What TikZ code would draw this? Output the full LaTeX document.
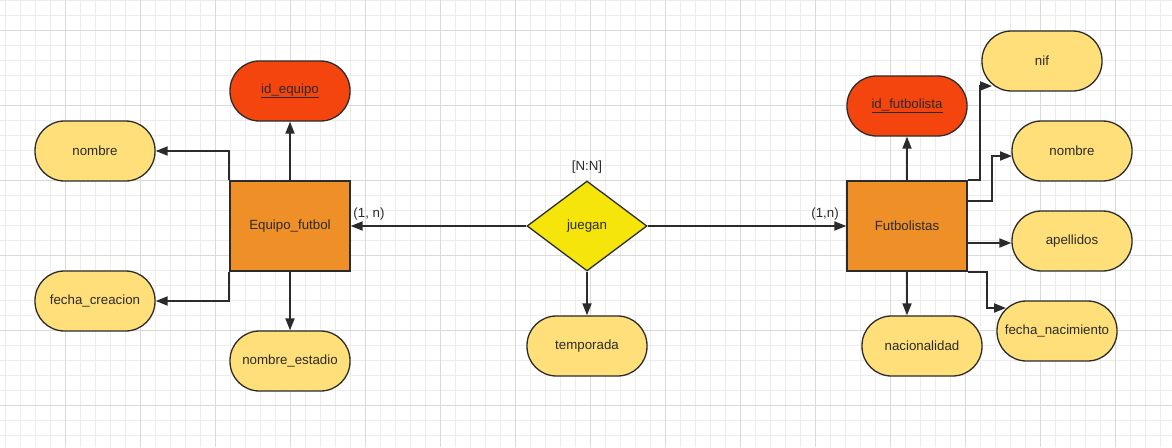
\documentclass[tikz,border=0pt]{standalone}
\usepackage{fontspec}
\setmainfont{Liberation Sans}
\usetikzlibrary{shapes.geometric,arrows.meta}
\definecolor{gridminor}{HTML}{ECECEC}
\definecolor{gridmajor}{HTML}{DADADA}
\definecolor{entfill}{HTML}{EF8F28}
\definecolor{attfill}{HTML}{FFDF7A}
\definecolor{keyfill}{HTML}{F5450F}
\definecolor{relfill}{HTML}{F5E50A}
\definecolor{ink}{HTML}{2B2B2B}
\tikzset{
  base/.style={draw=ink, line width=1.3pt, text=ink, font=\fontsize{13.3}{15}\selectfont, inner sep=0pt},
  entity/.style={base, fill=entfill, minimum width=120pt, minimum height=90pt},
  attr/.style={base, fill=attfill, rounded corners=29.5pt, minimum width=120pt, minimum height=60pt},
  keyattr/.style={attr, fill=keyfill},
  rel/.style={base, fill=relfill, diamond, aspect=1.333, minimum width=120pt, minimum height=90pt},
  conn/.style={draw=ink, line width=1.8pt, -{Triangle[length=12pt,width=9pt]}},
  lbl/.style={text=ink, font=\fontsize{13.3}{15}\selectfont, inner sep=0pt},
}
\begin{document}
\begin{tikzpicture}[x=1pt,y=-1pt]
\useasboundingbox (0,0) rectangle (1172,447);
\fill[white] (0,0) rectangle (1172,447);
% grid
\foreach \gx in {5,20,...,1170} \draw[gridminor, line width=0.8pt] (\gx,0) -- (\gx,447);
\foreach \gy in {0,15,...,445} \draw[gridminor, line width=0.8pt] (0,\gy) -- (1172,\gy);
\foreach \gx in {65,140,...,1130} \draw[gridmajor, line width=1pt] (\gx,0) -- (\gx,447);
\foreach \gy in {30,105,...,430} \draw[gridmajor, line width=1pt] (0,\gy) -- (1172,\gy);

% left entity
\node[entity] (E) at (290,226) {Equipo\_futbol};
\node[keyattr] (ide) at (290,91) {\underline{id\_equipo}};
\node[attr] (nomL) at (95,151) {nombre};
\node[attr] (fcre) at (95,301) {fecha\_creacion};
\node[attr] (nest) at (290,361) {nombre\_estadio};

% relationship
\node[rel] (J) at (587,226) {juegan};
\node[attr] (temp) at (587,346) {temporada};
\node[lbl] (nn) at (587,167) {[N:N]};
\node[lbl] (cardL) at (369,214) {(1, n)};
\node[lbl] (cardR) at (825,214) {(1,n)};

% right entity
\node[entity] (F) at (907,226) {Futbolistas};
\node[keyattr] (idf) at (907,106) {\underline{id\_futbolista}};
\node[attr] (nif) at (1042,61) {nif};
\node[attr] (nomR) at (1072,151) {nombre};
\node[attr] (ape) at (1072,241) {apellidos};
\node[attr] (fnac) at (1057,331) {fecha\_nacimiento};
\node[attr] (nac) at (922,346) {nacionalidad};

\coordinate (nifin) at (992,86);
\coordinate (nomRin) at (1012,156);
\coordinate (fnacin) at (1006,308);

% connectors left
\draw[conn] (E.north) -- (ide.south);
\draw[conn] (E.north west) |- (nomL.east);
\draw[conn] (E.south west) |- (fcre.east);
\draw[conn] (E.south) -- (nest.north);
% relationship connectors
\draw[conn] (J.west) -- (E.east);
\draw[conn] (J.east) -- (F.west);
\draw[conn] (J.south) -- (temp.north);
% connectors right
\draw[conn] (F.north) -- (idf.south);
\draw[conn] (F.north east) -- ++(12,0) |- (nifin);
\draw[conn] ([yshift=25pt]F.east) -- ++(24,0) |- (nomRin);
\draw[conn] ([yshift=-17pt]F.east) -- ([yshift=-2pt]ape.west);
\draw[conn] (F.south east) -- ++(19,0) |- (fnacin);
\draw[conn] (F.south) -- (F.south |- nac.north);
\end{tikzpicture}
\end{document}
